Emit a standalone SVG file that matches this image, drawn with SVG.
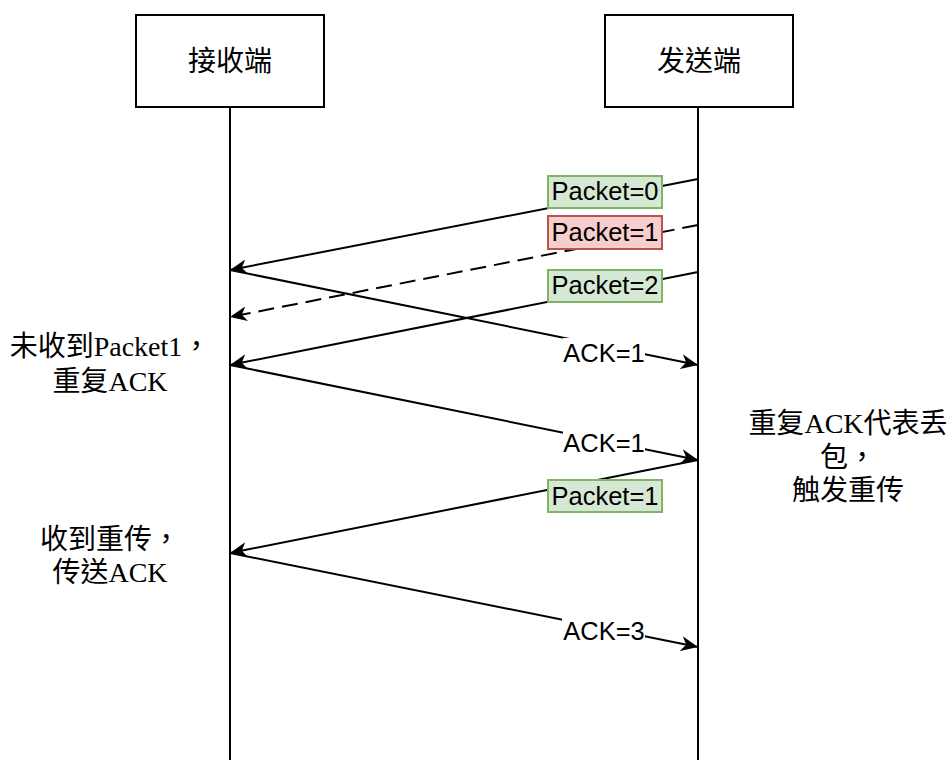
<svg xmlns="http://www.w3.org/2000/svg" width="950" height="760" viewBox="0 0 950 760">
  <style>
    .box { fill: #ffffff; stroke: #000000; stroke-width: 2; }
    .life { stroke: #000000; stroke-width: 2; fill: none; }
    .msg { stroke: #000000; stroke-width: 2; fill: none; marker-end: url(#arrow); }
    .dash { stroke-dasharray: 16 8; }
    .title { font-family: 'Noto Sans CJK TC', 'Liberation Sans', sans-serif; font-size: 28px; text-anchor: middle; fill: #000000; }
    .lbl { font-family: 'Liberation Sans', Arial, sans-serif; font-size: 25.5px; text-anchor: middle; fill: #000000; }
    .note { font-family: 'Liberation Serif', 'Noto Sans CJK TC', serif; font-size: 28px; text-anchor: middle; fill: #000000; }
    .ok { fill: #d5e8d4; stroke: #82b366; stroke-width: 2; }
    .bad { fill: #f8cecc; stroke: #b85450; stroke-width: 2; }
    .bg { fill: #ffffff; stroke: none; }
  </style>
  <defs>
    <marker id="arrow" markerUnits="userSpaceOnUse" viewBox="0 0 17 15" refX="17" refY="7.5" markerWidth="17" markerHeight="15" orient="auto">
      <path d="M0,0 L17,7.5 L0,15 L5,7.5 Z" fill="#000000"/>
    </marker>
  </defs>
  <rect width="950" height="760" fill="#ffffff"/>

  <g id="receiver">
    <line class="life" x1="230" y1="107" x2="230" y2="760"/>
    <rect class="box" x="136" y="15" width="188" height="92"/>
    <text class="title" x="230" y="71">接收端</text>
  </g>
  <g id="sender">
    <line class="life" x1="698" y1="107" x2="698" y2="760"/>
    <rect class="box" x="605" y="15" width="188" height="92"/>
    <text class="title" x="699" y="71">发送端</text>
  </g>

  <g id="connectors">
    <g id="m-packet0">
      <line class="msg" x1="698" y1="179" x2="230" y2="270"/>
      <rect class="ok" x="548" y="176" width="114" height="32"/>
      <text class="lbl" x="605" y="200">Packet=0</text>
    </g>
    <g id="m-packet1-lost">
      <line class="msg dash" x1="698" y1="225" x2="230" y2="317"/>
      <rect class="bad" x="548" y="216" width="114" height="33"/>
      <text class="lbl" x="605" y="241">Packet=1</text>
    </g>
    <g id="m-packet2">
      <line class="msg" x1="698" y1="272" x2="230" y2="365"/>
      <rect class="ok" x="548" y="270" width="114" height="32"/>
      <text class="lbl" x="605" y="294">Packet=2</text>
    </g>
    <g id="m-ack1a">
      <line class="msg" x1="230" y1="270" x2="698" y2="365"/>
      <rect class="bg" x="563" y="338" width="82" height="30"/>
      <text class="lbl" x="604" y="362">ACK=1</text>
    </g>
    <g id="m-ack1b">
      <line class="msg" x1="230" y1="365" x2="698" y2="460"/>
      <rect class="bg" x="563" y="429" width="82" height="30"/>
      <text class="lbl" x="604" y="452">ACK=1</text>
    </g>
    <g id="m-packet1-resend">
      <line class="msg" x1="698" y1="460" x2="230" y2="553"/>
      <rect class="ok" x="548" y="480" width="114" height="32"/>
      <text class="lbl" x="605" y="505">Packet=1</text>
    </g>
    <g id="m-ack3">
      <line class="msg" x1="230" y1="553" x2="698" y2="647"/>
      <rect class="bg" x="562" y="617" width="83" height="30"/>
      <text class="lbl" x="604" y="640">ACK=3</text>
    </g>
  </g>

  <g id="note-missing">
    <text class="note" x="110" y="356">未收到Packet1，</text>
    <text class="note" x="110" y="391">重复ACK</text>
  </g>
  <g id="note-dup">
    <text class="note" x="848" y="433">重复ACK代表丢</text>
    <text class="note" x="848" y="467">包，</text>
    <text class="note" x="848" y="500">触发重传</text>
  </g>
  <g id="note-resend">
    <text class="note" x="110" y="549">收到重传，</text>
    <text class="note" x="110" y="582">传送ACK</text>
  </g>
</svg>
